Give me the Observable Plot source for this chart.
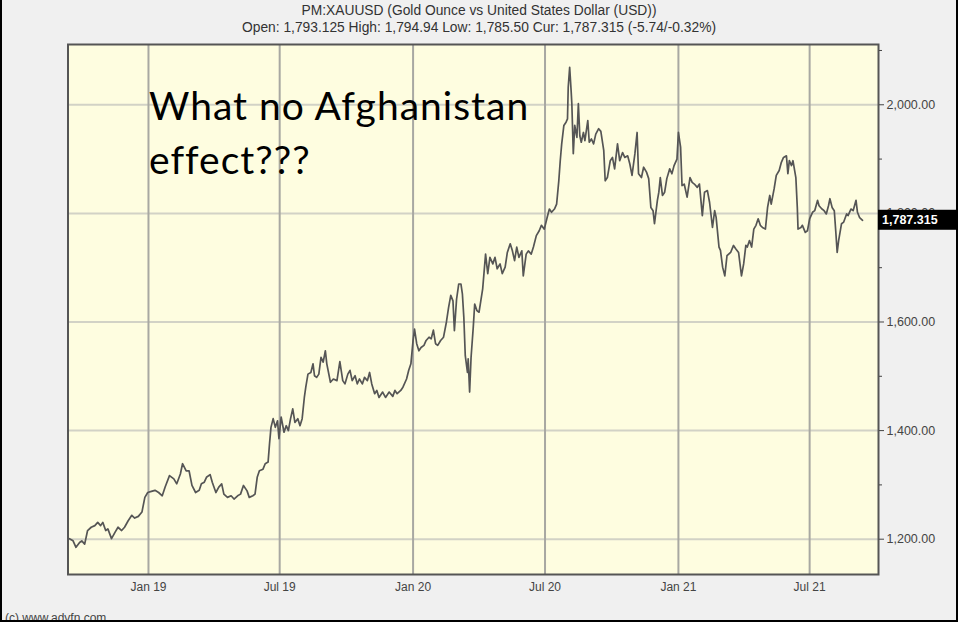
<!DOCTYPE html>
<html><head><meta charset="utf-8">
<script src="https://cdn.jsdelivr.net/npm/d3@7"></script>
<script src="https://cdn.jsdelivr.net/npm/@observablehq/plot@0.6"></script>
<style>
html,body{margin:0;padding:0;background:#f0f0f0;}
#wrap{position:relative;width:958px;height:622px;overflow:hidden;background:#f0f0f0;font-family:"Liberation Sans",Arial,sans-serif;}
#wrap svg{position:absolute;left:0;top:0;}
.t{position:absolute;left:0;width:958px;text-align:center;color:#333;font-size:13.8px;line-height:16px;white-space:nowrap;}
#t1{top:3px}
#t2{top:20px}
#cap{position:absolute;left:5px;top:611px;font-size:12px;color:#444;line-height:14px;}
#border{position:absolute;left:0;top:0;right:0;bottom:0;border-left:2px solid #000;border-right:2px solid #000;border-bottom:2px solid #000;pointer-events:none;}
</style></head><body>
<div id="wrap">
  <div id="chart"></div>
  <div class="t" id="t1"></div>
  <div class="t" id="t2"></div>
  <div id="cap"></div>
  <div id="border"></div>
</div>
<script>
// ---- text ----
const titleLines = [
  "PM:XAUUSD (Gold Ounce vs United States Dollar (USD))",
  "Open: 1,793.125 High: 1,794.94 Low: 1,785.50 Cur: 1,787.315 (-5.74/-0.32%)"
];
const annotationLines = ["What no Afghanistan", "effect???"];
const captionText = "(c) www.advfn.com";
const currentValue = 1787.315;
const currentLabel = "1,787.315";

// ---- axes ----
const xDomain = ["2018-09-12", "2021-10-04"];
const yDomain = [1135, 2111];
const xTickDates = ["2019-01-01", "2019-07-01", "2020-01-01", "2020-07-01", "2021-01-01", "2021-07-01"];
const xTickLabels = ["Jan 19", "Jul 19", "Jan 20", "Jul 20", "Jan 21", "Jul 21"];
const yTicks = [1200, 1400, 1600, 1800, 2000];
const yMinorTicks = [1300, 1500, 1700, 1900, 2100];

// ---- series ----
const dates2018 = ["2018-09-14","2018-09-19","2018-09-23","2018-09-28","2018-10-01","2018-10-05","2018-10-09","2018-10-14","2018-10-19","2018-10-23","2018-10-27","2018-10-30","2018-11-03","2018-11-06","2018-11-11","2018-11-16","2018-11-20","2018-11-25","2018-11-29","2018-12-04","2018-12-09","2018-12-13","2018-12-18","2018-12-23","2018-12-27"];
const prices2018 = [1201,1197,1185,1194,1197,1191,1216,1222,1225,1231,1225,1231,1216,1219,1201,1213,1222,1216,1222,1234,1244,1239,1242,1250,1277];

const dates2019a = ["2018-12-31","2019-01-05","2019-01-10","2019-01-15","2019-01-20","2019-01-24","2019-01-30","2019-02-05","2019-02-09","2019-02-14","2019-02-17","2019-02-22","2019-02-26","2019-03-02","2019-03-07","2019-03-12","2019-03-15","2019-03-19","2019-03-22","2019-03-27","2019-03-30","2019-04-04","2019-04-08","2019-04-12","2019-04-15","2019-04-20","2019-04-25","2019-04-29","2019-05-04","2019-05-08","2019-05-12","2019-05-17","2019-05-20","2019-05-25","2019-05-28","2019-05-31","2019-06-03","2019-06-08","2019-06-11","2019-06-15","2019-06-17","2019-06-19","2019-06-22","2019-06-25","2019-06-28","2019-06-30"];
const prices2019a = [1286,1288,1290,1286,1280,1296,1317,1311,1302,1320,1339,1326,1326,1299,1286,1290,1302,1305,1314,1319,1305,1286,1296,1302,1283,1277,1280,1274,1280,1283,1299,1289,1277,1280,1283,1314,1326,1329,1339,1342,1376,1406,1422,1406,1418,1385];

const dates2019b = ["2019-07-03","2019-07-07","2019-07-10","2019-07-13","2019-07-16","2019-07-19","2019-07-22","2019-07-26","2019-07-29","2019-08-01","2019-08-04","2019-08-06","2019-08-09","2019-08-13","2019-08-16","2019-08-18","2019-08-21","2019-08-24","2019-08-27","2019-08-30","2019-09-02","2019-09-04","2019-09-09","2019-09-13","2019-09-18","2019-09-22","2019-09-26","2019-09-29","2019-10-03","2019-10-06","2019-10-09","2019-10-13","2019-10-16","2019-10-19","2019-10-23","2019-10-26","2019-10-30","2019-11-02","2019-11-05","2019-11-09","2019-11-12","2019-11-15","2019-11-20","2019-11-24","2019-11-29","2019-12-04","2019-12-07","2019-12-10","2019-12-15","2019-12-18","2019-12-23","2019-12-26","2019-12-29"];
const prices2019b = [1425,1397,1409,1400,1422,1440,1415,1422,1409,1422,1461,1480,1504,1507,1523,1501,1498,1504,1535,1526,1547,1523,1489,1495,1492,1527,1492,1486,1504,1511,1492,1501,1486,1495,1486,1498,1492,1507,1486,1468,1474,1461,1471,1461,1471,1463,1474,1468,1474,1480,1495,1511,1523];

const dates2020a = ["2020-01-01","2020-01-03","2020-01-06","2020-01-09","2020-01-12","2020-01-16","2020-01-19","2020-01-23","2020-01-26","2020-01-29","2020-02-01","2020-02-04","2020-02-08","2020-02-12","2020-02-16","2020-02-19","2020-02-22","2020-02-25","2020-02-27","2020-03-01","2020-03-04","2020-03-07","2020-03-09","2020-03-11","2020-03-13","2020-03-16","2020-03-17","2020-03-19","2020-03-21","2020-03-24","2020-03-26","2020-03-29","2020-04-01","2020-04-06","2020-04-10","2020-04-13","2020-04-16","2020-04-20","2020-04-23","2020-04-26","2020-04-30","2020-05-03","2020-05-07","2020-05-10","2020-05-14","2020-05-17","2020-05-20","2020-05-23","2020-05-26","2020-05-30","2020-06-01","2020-06-05","2020-06-08","2020-06-12","2020-06-15","2020-06-19","2020-06-23","2020-06-26","2020-06-30"];
const prices2020a = [1566,1587,1560,1547,1553,1557,1566,1572,1569,1585,1560,1557,1566,1572,1600,1627,1649,1639,1584,1642,1670,1670,1652,1609,1538,1507,1532,1471,1535,1590,1633,1621,1618,1661,1725,1689,1719,1707,1719,1698,1707,1689,1701,1728,1744,1731,1713,1738,1719,1731,1685,1725,1731,1725,1738,1759,1768,1778,1771];

const dates2020b = ["2020-07-04","2020-07-07","2020-07-10","2020-07-14","2020-07-17","2020-07-20","2020-07-22","2020-07-24","2020-07-27","2020-07-30","2020-08-01","2020-08-02","2020-08-04","2020-08-06","2020-08-07","2020-08-09","2020-08-11","2020-08-14","2020-08-16","2020-08-18","2020-08-20","2020-08-23","2020-08-25","2020-08-29","2020-08-31","2020-09-03","2020-09-06","2020-09-09","2020-09-13","2020-09-16","2020-09-20","2020-09-22","2020-09-25","2020-09-29","2020-10-02","2020-10-05","2020-10-09","2020-10-12","2020-10-16","2020-10-19","2020-10-23","2020-10-26","2020-10-29","2020-11-02","2020-11-05","2020-11-07","2020-11-11","2020-11-14","2020-11-18","2020-11-21","2020-11-24","2020-11-27","2020-11-29","2020-12-03","2020-12-05","2020-12-07","2020-12-10","2020-12-13","2020-12-16","2020-12-20","2020-12-23","2020-12-26","2020-12-30"];
const prices2020b = [1793,1808,1802,1808,1817,1860,1897,1928,1962,1968,1974,2032,2069,2026,2002,1910,1962,1940,2002,1943,1931,1949,1934,1971,1931,1937,1928,1946,1956,1951,1916,1860,1866,1897,1903,1882,1928,1897,1912,1903,1906,1891,1870,1910,1949,1873,1866,1885,1876,1864,1811,1805,1781,1824,1839,1866,1833,1839,1864,1882,1873,1888,1900];

const dates2021 = ["2021-01-01","2021-01-04","2021-01-06","2021-01-09","2021-01-13","2021-01-17","2021-01-20","2021-01-23","2021-01-27","2021-01-30","2021-02-03","2021-02-06","2021-02-10","2021-02-13","2021-02-17","2021-02-20","2021-02-22","2021-02-26","2021-02-28","2021-03-03","2021-03-06","2021-03-09","2021-03-14","2021-03-18","2021-03-21","2021-03-25","2021-03-29","2021-04-01","2021-04-04","2021-04-06","2021-04-09","2021-04-12","2021-04-15","2021-04-18","2021-04-21","2021-04-24","2021-04-27","2021-05-01","2021-05-04","2021-05-07","2021-05-09","2021-05-13","2021-05-16","2021-05-20","2021-05-23","2021-05-26","2021-05-30","2021-06-01","2021-06-03","2021-06-06","2021-06-08","2021-06-12","2021-06-14","2021-06-15","2021-06-19","2021-06-21","2021-06-25","2021-06-28","2021-07-01","2021-07-05","2021-07-08","2021-07-12","2021-07-14","2021-07-18","2021-07-21","2021-07-24","2021-07-27","2021-07-29","2021-08-01","2021-08-04","2021-08-06","2021-08-08","2021-08-10","2021-08-14","2021-08-17","2021-08-21","2021-08-23","2021-08-27","2021-08-30","2021-09-03","2021-09-05","2021-09-08","2021-09-12"];
const prices2021 = [1949,1922,1851,1854,1830,1866,1857,1854,1848,1854,1796,1839,1842,1820,1774,1805,1793,1738,1732,1701,1685,1722,1728,1741,1735,1728,1685,1707,1741,1738,1750,1738,1771,1778,1790,1778,1774,1771,1811,1833,1817,1845,1870,1879,1894,1903,1906,1873,1897,1888,1897,1866,1811,1771,1774,1778,1765,1768,1790,1802,1805,1824,1814,1808,1805,1799,1814,1827,1811,1805,1768,1728,1750,1781,1784,1799,1796,1808,1805,1824,1802,1792,1787.315];

// ---- build table ----
const parse = d3.utcParse("%Y-%m-%d");
const segments = [[dates2018, prices2018],[dates2019a, prices2019a],[dates2019b, prices2019b],[dates2020a, prices2020a],[dates2020b, prices2020b],[dates2021, prices2021]];
const data = segments.flatMap(([ds, ps]) => ds.map((d, i) => ({date: parse(d), price: ps[i]})));
const tickDates = xTickDates.map(parse);
const fmt = d3.format(",.2f");

const W = 958, H = 622, ML = 67.5, MR = 80, MT = 44, MB = 48;

const chart = Plot.plot({
  width: W, height: H,
  marginLeft: ML, marginRight: MR, marginTop: MT, marginBottom: MB,
  style: {background: "transparent", fontFamily: "'Liberation Sans', Arial, sans-serif", fontSize: "12px", color: "#444", overflow: "visible"},
  x: {type: "utc", domain: xDomain.map(parse)},
  y: {domain: yDomain},
  marks: [
    Plot.frame({fill: "#fefde0"}),
    Plot.ruleY(yTicks, {stroke: "#d2d2c6", strokeWidth: 2}),
    Plot.ruleX(tickDates, {stroke: "#a8a8a2", strokeWidth: 2}),
    Plot.lineY(data, {x: "date", y: "price", stroke: "#555", strokeWidth: 1.7}),
    Plot.frame({stroke: "#555", strokeWidth: 2}),
    Plot.axisY({anchor: "right", ticks: yTicks, tickFormat: d => fmt(d), tickSize: 5, tickPadding: 3, fontSize: 12.5, label: null}),
    Plot.axisY({anchor: "right", ticks: yMinorTicks, tickFormat: () => "", tickSize: 3, label: null}),
    Plot.axisX({ticks: tickDates, tickFormat: d => xTickLabels[tickDates.findIndex(t => +t === +d)], tickSize: 0, tickPadding: 8, fontSize: 12, label: null}),
    Plot.text([annotationLines.join("\n")], {frameAnchor: "top-left", text: d => d, dx: 81, dy: 37, lineAnchor: "top", textAnchor: "start", lineHeight: 1.38, fontSize: 39, fontFamily: "Lato", fill: "#000", className: "annot"})
  ]
});
document.getElementById("chart").appendChild(chart);
d3.select(chart).selectAll(".annot text").style("letter-spacing", "1px");

// current-value box, placed with the chart's own y scale
const yPos = chart.scale("y").apply(currentValue);
const svg = d3.select(chart);
const g = svg.append("g").attr("text-anchor", "start");
g.append("rect").attr("x", W - MR).attr("y", yPos - 10).attr("width", MR).attr("height", 20).attr("fill", "#000");
g.append("text").attr("x", W - MR + 4).attr("y", yPos).attr("dy", "0.35em").attr("text-anchor", "start")
  .attr("fill", "#fff").attr("font-weight", "bold").attr("font-size", 12.5)
  .attr("font-family", "'Liberation Sans', Arial, sans-serif").text(currentLabel);

document.getElementById("t1").textContent = titleLines[0];
document.getElementById("t2").textContent = titleLines[1];
document.getElementById("cap").textContent = captionText;
</script>
</body></html>
